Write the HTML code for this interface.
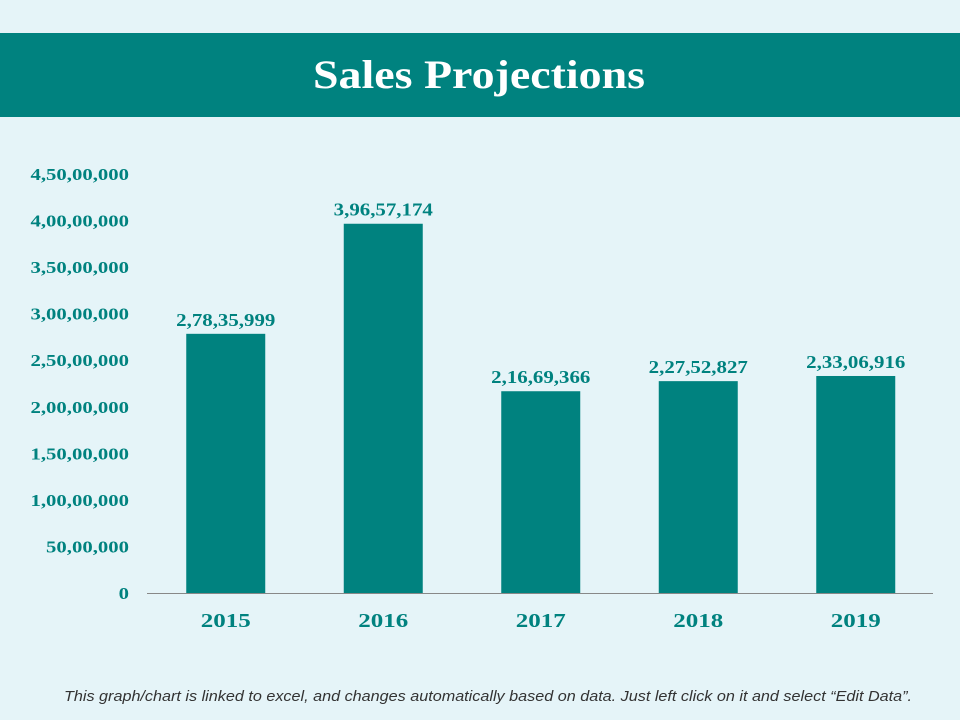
<!DOCTYPE html>
<html><head><meta charset="utf-8"><style>
body{margin:0;width:960px;height:720px;background:#e5f4f8;overflow:hidden;font-family:"Liberation Serif",serif;}
#band{position:absolute;left:0;top:33px;width:960px;height:84px;background:#00827f;}
</style></head><body>
<div id="band"></div>
<svg id="chart" width="960" height="720" style="position:absolute;left:0;top:0">
<text x="313" y="88" textLength="332" lengthAdjust="spacingAndGlyphs" font-size="40" font-weight="bold" fill="#fff" font-family="Liberation Serif, serif">Sales Projections</text>
<text x="64" y="701" textLength="848" lengthAdjust="spacingAndGlyphs" font-size="15" font-style="italic" fill="#333" font-family="Liberation Sans, sans-serif">This graph/chart is linked to excel, and changes automatically based on data. Just left click on it and select “Edit Data”.</text>
</svg>
<script>
const categories=["2015","2016","2017","2018","2019"];
const values=[27835999,39657174,21669366,22752827,23306916];
const valueLabels=["2,78,35,999","3,96,57,174","2,16,69,366","2,27,52,827","2,33,06,916"];
const ticks=[0,5000000,10000000,15000000,20000000,25000000,30000000,35000000,40000000,45000000];
const tickLabels=["0","50,00,000","1,00,00,000","1,50,00,000","2,00,00,000","2,50,00,000","3,00,00,000","3,50,00,000","4,00,00,000","4,50,00,000"];
const svg=document.getElementById('chart');
const NS='http://www.w3.org/2000/svg';
const y0=593,yTop=174,vmax=45000000;
const y=v=>y0-(v/vmax)*(y0-yTop);
const x0=147,step=157.5,bw=79;
const xc=i=>x0+step*(i+0.5);
function mk(t,a){const e=document.createElementNS(NS,t);for(const k in a)e.setAttribute(k,a[k]);svg.appendChild(e);return e;}
function widen(e,r){const w=e.getComputedTextLength();e.setAttribute('textLength',w*r);e.setAttribute('lengthAdjust','spacingAndGlyphs');}
const teal="#00827f";
ticks.forEach((t,i)=>{
 const e=mk('text',{x:129,y:y(t)+6,'text-anchor':'end','font-size':17,'font-weight':'bold',fill:teal,'font-family':'Liberation Serif, serif'});
 e.textContent=tickLabels[i];
 
 
 widen(e,1.22);
});
const ax=mk('line',{x1:147,x2:933,y1:y0+0.5,y2:y0+0.5,stroke:'#888','stroke-width':1});


categories.forEach((c,i)=>{
 const r=mk('rect',{x:xc(i)-bw/2,y:y(values[i]),width:bw,height:y0-y(values[i]),fill:teal});
 
 
 const l=mk('text',{x:xc(i),y:y(values[i])-8,'text-anchor':'middle','font-size':18,'font-weight':'bold',fill:teal,'font-family':'Liberation Serif, serif'});
 l.textContent=valueLabels[i];
 
 
 widen(l,1.16);
 const t=mk('text',{x:xc(i),y:627,'text-anchor':'middle','font-size':20,'font-weight':'bold',fill:teal,'font-family':'Liberation Serif, serif'});
 t.textContent=c;
 
 
 widen(t,1.25);
});
</script>
</body></html>
